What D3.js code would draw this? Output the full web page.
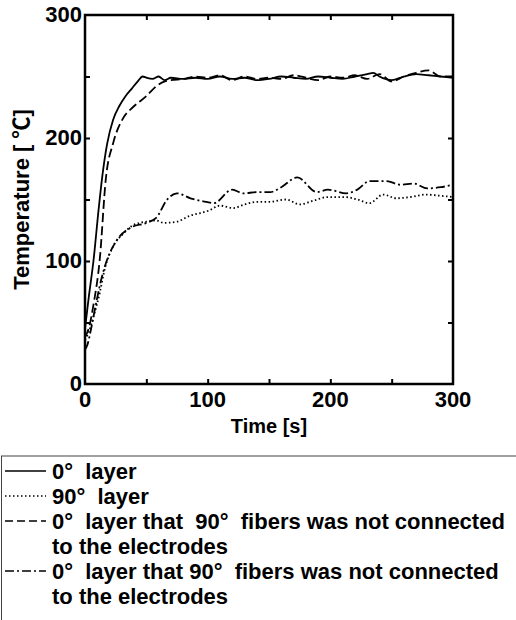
<!DOCTYPE html>
<html><head><meta charset="utf-8">
<script src="https://cdn.jsdelivr.net/npm/d3@7"></script>
<style>body{margin:0;background:#fff}svg{display:block}text{font-family:Arial,"Liberation Sans","Noto Sans CJK JP",sans-serif;font-weight:bold;fill:#000}</style>
</head><body><svg id="c" width="516" height="620"></svg>
<script>
// ---- data ----
const solidT = [0,3,7,11,14,18,23,28,33,38,43,47,50,55,60,65,70,80,90,100,110,120,130,140,150,160,170,180,190,200,210,220,230,235,240,250,260,270,280,290,300];
const solidV = [45,70,101,141,168,195,215,226,234,240,246,250,249,248,250,247,249,248,249,248,250,248,249,247,248,250,249,248,250,249,248,250,252,253,250,247,250,252,251,250,249];
const dottedT = [0,3,7,12,16,23,31,39,50,58,64,75,86,94,101,110,121,130,140,150,164,175,186,198,212,222,232,243,254,265,278,290,300];
const dottedV = [36,42,55,74,93,112,122,129,132,133,131,132,137,139,141,145,143,146,148,148,150,146,149,152,152,150,147,154,151,152,154,153,152];
const dashedT = [0,3,7,12,17,23,31,39,50,58,65,70,80,90,100,110,120,130,140,150,160,170,180,190,200,210,220,230,240,250,260,270,280,290,300];
const dashedV = [38,45,65,101,167,196,216,225,234,242,246,247,248,250,249,251,247,250,248,249,248,251,249,247,250,249,251,248,252,246,250,253,255,250,250];
const dashdotT = [0,2,5,9.5,14,18,26,37,50,58,67,75,86,94,99,105,120,129,140,151,160,173,189,198,213,222,232,246,257,268,279,290,300];
const dashdotV = [28,32,45,68,88,101,117,127,131,135,150,155,151,149,148,147,158,155,156,156,160,168,156,158,155,158,165,165,162,163,159,160,162];
const xTicks = [0,100,200,300];
const yTicks = [0,100,200,300];
const minorTicks = [50,100,150,200,250];
const xTitle = "Time [s]";
const yTitle = "Temperature [ ℃]";
const legendLines = [
  {label:"0°  layer", dash:null},
  {label:"90°  layer", dash:"1.5,2.5"},
  {label:"0°  layer that  90°  fibers was not connected", dash:"8,4"},
  {label:"to the electrodes", dash:"none"},
  {label:"0°  layer that 90°  fibers was not connected", dash:"9,3,2,3"},
  {label:"to the electrodes", dash:"none"}
];
const series = [
  {t:solidT, v:solidV, dash:null},
  {t:dottedT, v:dottedV, dash:"1.5,2.5"},
  {t:dashedT, v:dashedV, dash:"9,4"},
  {t:dashdotT, v:dashdotV, dash:"9,3,2,3"}
];

// ---- layout ----
const svg = d3.select("#c");
const L=85, R=453, T=15, B=384;
const x = d3.scaleLinear().domain([0,300]).range([L,R]);
const y = d3.scaleLinear().domain([0,300]).range([B,T]);

// curves
const line = d3.line().x(d=>x(d[0])).y(d=>y(d[1])).curve(d3.curveMonotoneX);
series.forEach(s=>{
  const pts = s.t.map((t,i)=>[t,s.v[i]]);
  svg.append("path").attr("d",line(pts)).attr("fill","none").attr("stroke","#000")
    .attr("stroke-width",1.8).attr("stroke-dasharray",s.dash);
});

// axes
const tickLen = 5;
const gB = svg.append("g").attr("transform",`translate(0,${B})`)
  .call(d3.axisBottom(x).tickValues(minorTicks).tickSize(-tickLen).tickFormat(""));
const gT = svg.append("g").attr("transform",`translate(0,${T})`)
  .call(d3.axisTop(x).tickValues(minorTicks).tickSize(-tickLen).tickFormat(""));
const gL = svg.append("g").attr("transform",`translate(${L},0)`)
  .call(d3.axisLeft(y).tickValues(minorTicks).tickSize(-tickLen).tickFormat(""));
const gR = svg.append("g").attr("transform",`translate(${R},0)`)
  .call(d3.axisRight(y).tickValues(minorTicks).tickSize(-tickLen).tickFormat(""));
[gB,gT,gL,gR].forEach(g=>{g.select(".domain").remove();g.selectAll("line").attr("stroke","#000").attr("stroke-width",2);});
svg.append("rect").attr("x",L).attr("y",T).attr("width",R-L).attr("height",B-T)
  .attr("fill","none").attr("stroke","#000").attr("stroke-width",2.5);

// tick labels
svg.selectAll(".xl").data(xTicks).join("text").attr("x",d=>x(d)).attr("y",B+23)
  .attr("text-anchor","middle").attr("font-size",22).text(d=>d);
svg.selectAll(".yl").data(yTicks).join("text").attr("x",L-3).attr("y",d=>y(d)+7)
  .attr("text-anchor","end").attr("font-size",22).text(d=>d);

svg.append("text").attr("x",(L+R)/2).attr("y",433).attr("text-anchor","middle")
  .attr("font-size",20).text(xTitle);
svg.append("text").attr("transform",`translate(29,${(T+B)/2}) rotate(-90)`)
  .attr("text-anchor","middle").attr("font-size",22).style("white-space","pre").text(yTitle);

// legend
svg.append("rect").attr("x",1.5).attr("y",456).attr("width",530).attr("height",220)
  .attr("fill","none").attr("stroke","#444").attr("stroke-width",1);
const rowH = 25, row0 = 479;
legendLines.forEach((d,i)=>{
  const yy = row0 + i*rowH;
  if(d.dash!=="none"){
    svg.append("line").attr("x1",5).attr("x2",46).attr("y1",yy-8).attr("y2",yy-8)
      .attr("stroke","#000").attr("stroke-width",1.5).attr("stroke-dasharray",d.dash);
  }
  svg.append("text").attr("x",52).attr("y",yy).attr("font-size",22)
    .style("white-space","pre").text(d.label);
});
</script></body></html>
